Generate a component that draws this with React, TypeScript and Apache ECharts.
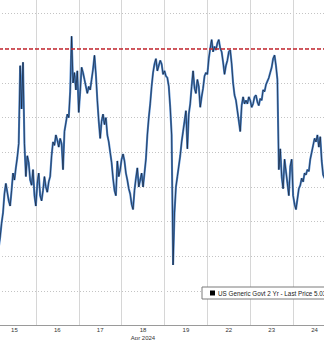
import React, { useEffect, useRef } from "react";
import * as echarts from "echarts";

// Trading days shown on the x axis (Apr 2024, weekend skipped)
const dayLabels = ["15", "16", "17", "18", "19", "22", "23", "24"];
const monthLabel = "Apr 2024";
const legendText = "US Generic Govt 2 Yr - Last Price 5.03";
const resistanceLevel = 5.0;

// Intraday 2Y yield samples (30 samples per trading day)
const apr15 = [4.880, 4.884, 4.882, 4.887, 4.885, 4.891, 4.899, 4.905, 4.916, 4.922, 4.917, 4.912, 4.909, 4.918, 4.928, 4.924, 4.931, 4.937, 4.945, 4.990, 4.965, 4.992, 4.945, 4.926, 4.938, 4.934, 4.924, 4.921, 4.930, 4.915];
const apr16 = [4.909, 4.922, 4.928, 4.915, 4.912, 4.918, 4.926, 4.920, 4.917, 4.923, 4.926, 4.938, 4.946, 4.944, 4.950, 4.947, 4.943, 4.948, 4.945, 4.930, 4.952, 4.957, 4.962, 4.960, 4.975, 5.007, 4.980, 4.986, 4.976, 4.987];
const apr17 = [4.963, 4.975, 4.989, 4.986, 4.982, 4.978, 4.974, 4.978, 4.976, 4.982, 4.988, 4.996, 4.985, 4.970, 4.958, 4.948, 4.958, 4.962, 4.956, 4.960, 4.950, 4.946, 4.940, 4.934, 4.925, 4.918, 4.915, 4.935, 4.926, 4.930];
const apr18 = [4.936, 4.939, 4.935, 4.928, 4.924, 4.919, 4.916, 4.910, 4.907, 4.918, 4.925, 4.931, 4.920, 4.924, 4.928, 4.920, 4.928, 4.936, 4.950, 4.960, 4.968, 4.978, 4.986, 4.991, 4.994, 4.987, 4.990, 4.993, 4.991, 4.985];
const apr19 = [4.987, 4.984, 4.983, 4.978, 4.966, 4.950, 4.875, 4.905, 4.920, 4.926, 4.932, 4.938, 4.946, 4.952, 4.958, 4.964, 4.942, 4.962, 4.968, 4.978, 4.987, 4.977, 4.974, 4.982, 4.978, 4.966, 4.972, 4.977, 4.984, 4.986];
const apr22 = [4.985, 4.994, 5.000, 5.005, 4.998, 5.001, 4.999, 5.003, 5.005, 5.000, 4.998, 4.992, 4.985, 4.990, 4.993, 4.998, 4.999, 4.991, 4.980, 4.973, 4.970, 4.964, 4.958, 4.952, 4.967, 4.972, 4.968, 4.970, 4.968, 4.972];
const apr23 = [4.970, 4.966, 4.968, 4.972, 4.973, 4.969, 4.967, 4.971, 4.970, 4.976, 4.975, 4.979, 4.981, 4.983, 4.986, 4.989, 4.994, 4.996, 4.990, 4.982, 4.930, 4.942, 4.926, 4.919, 4.936, 4.929, 4.922, 4.915, 4.932, 4.936];
const apr24 = [4.915, 4.910, 4.907, 4.913, 4.919, 4.921, 4.925, 4.923, 4.928, 4.927, 4.930, 4.929, 4.936, 4.940, 4.944, 4.948, 4.946, 4.950, 4.943, 4.949, 4.935, 4.927, 4.925];

const yieldByDay = [apr15, apr16, apr17, apr18, apr19, apr22, apr23, apr24];
const samplesPerDay = 30;

// The chart canvas is larger than the window and shifted up/left so the
// plot area (and its gridlines) extends past the visible edges.
const OFFSET_X = 7;
const OFFSET_Y = 21;

export default function App() {
  const ref = useRef<HTMLDivElement>(null);

  useEffect(() => {
    document.body.style.margin = "0";
    if (!ref.current) return;
    const chart = echarts.init(ref.current, undefined, { renderer: "svg" });

    const points: [number, number][] = [];
    yieldByDay.forEach((vals, d) => {
      vals.forEach((v, i) => points.push([d + i / samplesPerDay, v]));
    });

    const font = "Liberation Sans";

    chart.setOption({
      animation: false,
      backgroundColor: "#ffffff",
      grid: { left: 0, right: 0, top: 0, bottom: 14.4 },
      xAxis: [
        {
          type: "category",
          data: dayLabels,
          boundaryGap: true,
          axisLine: { show: true, lineStyle: { color: "#9a9a9a", width: 1 } },
          axisTick: { show: false },
          axisLabel: { fontSize: 6, color: "#333", margin: 1.5, fontFamily: font },
          splitLine: { show: true, lineStyle: { color: "#d6d6d6", width: 1, type: "solid" } },
        },
        { type: "value", min: 0, max: 8, show: false },
      ],
      yAxis: {
        type: "value",
        min: 4.84,
        max: 5.04,
        interval: 0.02,
        position: "right",
        axisLabel: { show: false },
        axisLine: { show: false },
        axisTick: { show: false },
        splitLine: { show: true, lineStyle: { color: "#c4c4c4", width: 1, type: [1, 2] } },
      },
      legend: {
        left: 202 + OFFSET_X,
        top: 287 + OFFSET_Y,
        padding: [3, 40, 3, 8],
        borderColor: "#7a7a7a",
        borderWidth: 1,
        backgroundColor: "#ffffff",
        itemWidth: 5,
        itemHeight: 5,
        itemGap: 4,
        textStyle: { fontSize: 6.3, color: "#222", fontFamily: font, padding: [0, 0, 0, -2] },
        data: [{ name: legendText, icon: "rect", itemStyle: { color: "#000" } }],
      },
      graphic: [
        {
          type: "text",
          x: 143 + OFFSET_X,
          y: 334.5 + OFFSET_Y,
          style: { text: monthLabel, fontSize: 6, fill: "#333", fontFamily: font, align: "center" },
        },
      ],
      series: [
        {
          name: "blue",
          type: "line",
          xAxisIndex: 1,
          data: points,
          showSymbol: false,
          lineStyle: { color: "#5089cf", width: 2.1 },
          z: 2,
        },
        {
          name: legendText,
          type: "line",
          xAxisIndex: 1,
          data: points,
          showSymbol: false,
          itemStyle: { color: "#000" },
          lineStyle: { color: "#121826", width: 0.65 },
          z: 3,
          markLine: {
            silent: true,
            symbol: "none",
            label: { show: false },
            lineStyle: { color: "#c4262e", width: 1.5, type: [4, 2] },
            data: [{ yAxis: resistanceLevel }],
          },
        },
      ],
    });

    return () => chart.dispose();
  }, []);

  return (
    <div style={{ position: "relative", width: 324, height: 340, overflow: "hidden" }}>
      <div
        ref={ref}
        style={{ position: "absolute", left: -OFFSET_X, top: -OFFSET_Y, width: 324 + OFFSET_X + 12, height: 340 + OFFSET_Y }}
      />
    </div>
  );
}
